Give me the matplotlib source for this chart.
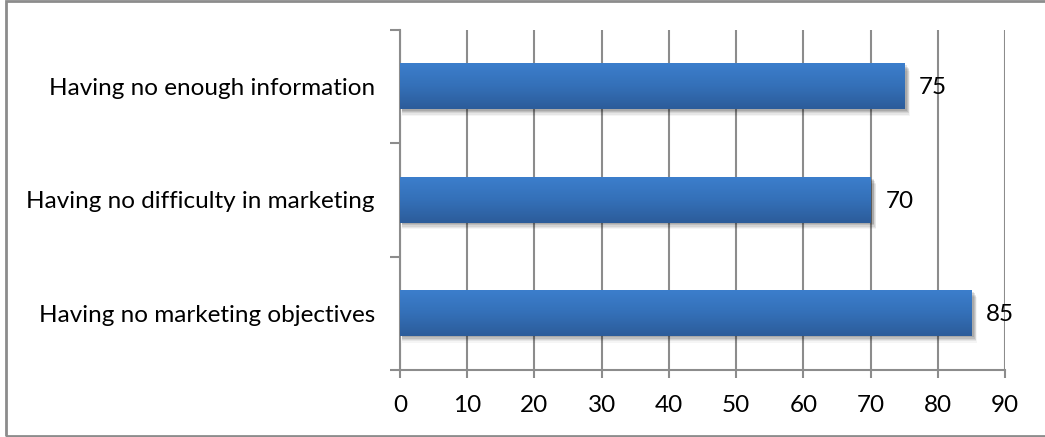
import numpy as np
import matplotlib.pyplot as plt
from matplotlib.colors import LinearSegmentedColormap
from matplotlib.patches import Rectangle

# Survey results (bottom to top)
categories = ["Having no marketing objectives",
              "Having no difficulty in marketing",
              "Having no enough information"]
values = [85, 70, 75]
x_ticks = list(range(0, 100, 10))

plt.rcParams['font.family'] = ['Lato', 'DejaVu Sans']

fig = plt.figure(figsize=(10.45, 4.37), dpi=100)
ax = fig.add_axes([400 / 1045, 67 / 437, 605 / 1045, 340 / 437])

grey = '#8c8c8c'
bar_h = 0.4
fs = 17.5
bar_cmap = LinearSegmentedColormap.from_list('bar', ['#3c7ecc', '#3470b8', '#2c5c9a'])
grad = np.linspace(0, 1, 100).reshape(-1, 1)

for i, v in enumerate(values):
    # soft drop shadow under each bar
    for k, a in enumerate([0.10, 0.10, 0.08, 0.06, 0.04]):
        off = 0.012 + k * 0.012
        ax.add_patch(Rectangle((0.3, i - bar_h / 2 - off), v + 0.15 + k * 0.1,
                               bar_h, color='black', alpha=a, lw=0, zorder=2))
    # white under the gradient so the shadow only shows at the edges
    ax.add_patch(Rectangle((0, i - bar_h / 2), v, bar_h, color='white', lw=0, zorder=3))
    ax.imshow(grad, cmap=bar_cmap, aspect='auto', zorder=4,
              extent=(0, v, i - bar_h / 2, i + bar_h / 2), origin='upper')
    ax.text(v + 2.2, i - 0.01, str(v), va='center', ha='left', fontsize=fs,
            color='black', zorder=5)

ax.set_xlim(0, 90)
ax.set_ylim(-0.5, len(values) - 0.5)

ax.set_xticks(x_ticks)
ax.set_xticklabels([str(t) for t in x_ticks], fontsize=fs)
ax.tick_params(axis='x', direction='out', length=6, width=1.5, color=grey, pad=12)

# category labels at the centre of each band, ticks at the band edges
ax.set_yticks(np.arange(-0.5, len(values), 1.0))
ax.set_yticklabels([])
ax.tick_params(axis='y', which='major', direction='out', length=7, width=1.5, color=grey)
ax.set_yticks(range(len(values)), minor=True)
ax.set_yticklabels(categories, minor=True, fontsize=fs)
ax.tick_params(axis='y', which='minor', length=0, pad=18)

ax.xaxis.grid(True, color=grey, lw=1.5, zorder=1)
ax.set_axisbelow(True)
for s in ['top', 'right']:
    ax.spines[s].set_visible(False)
for s in ['left', 'bottom']:
    ax.spines[s].set_color(grey)
    ax.spines[s].set_linewidth(1.5)

# outer chart border
fig.patches.append(Rectangle((6 / 1045, 1 / 437), 1045 / 1045, 435 / 437,
                             transform=fig.transFigure, fill=False,
                             edgecolor=grey, lw=2, figure=fig))

fig.savefig('out.png', dpi=100)
